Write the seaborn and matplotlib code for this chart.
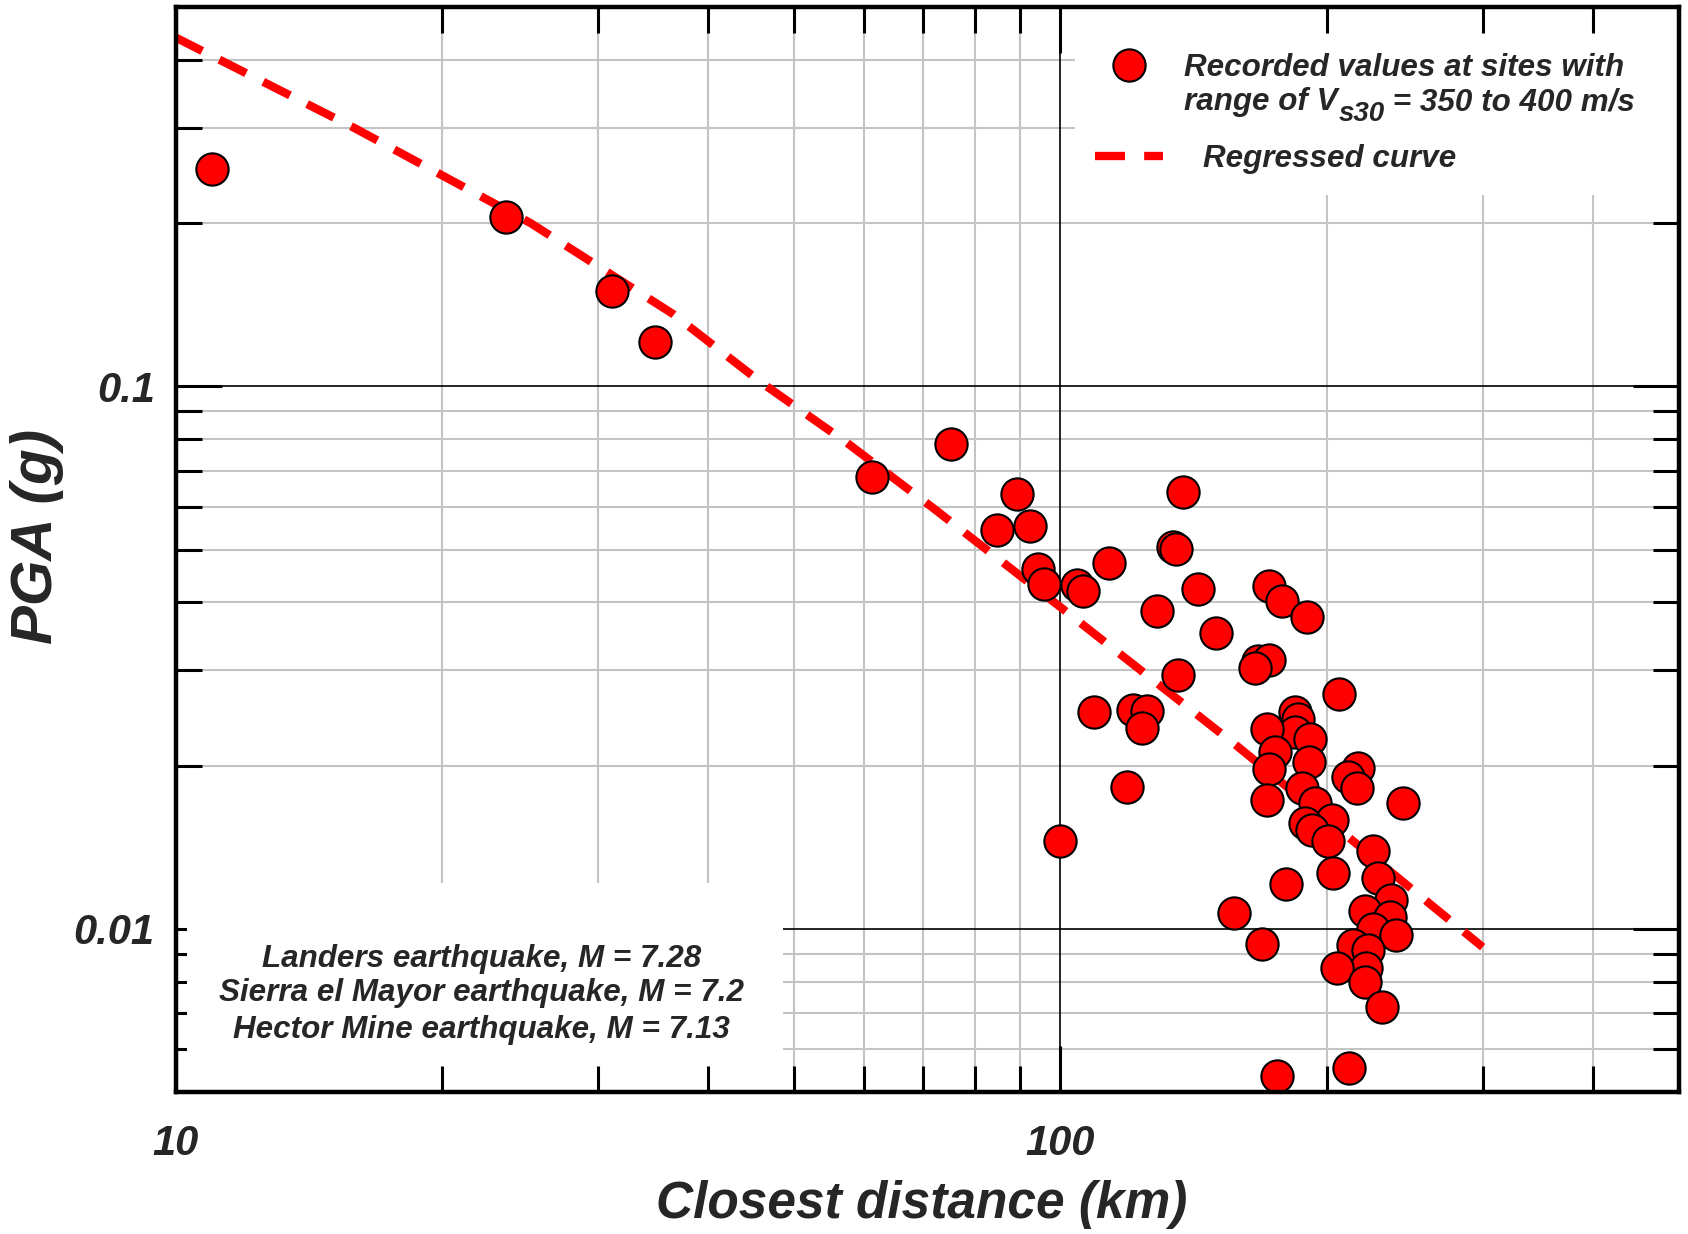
import matplotlib
matplotlib.use('Agg')
import matplotlib.pyplot as plt
import seaborn as sns
from matplotlib.patches import Rectangle
from matplotlib.ticker import FixedLocator, NullFormatter

# Recorded values (closest distance in km, PGA in g)
dist_km = [11.0, 23.6, 31.1, 34.8, 61.2, 75.2, 89.3, 84.8, 92.4, 94.3,
           95.8, 104.4, 106.0, 113.4, 137.6, 134.1, 135.1, 143.1, 128.5, 149.9,
           172.1, 178.0, 189.9, 167.2, 172.1, 165.9, 135.8, 206.4, 109.1, 120.8,
           125.2, 123.6, 118.9, 100.0, 184.1, 185.6, 184.1, 191.4, 171.2, 174.8,
           172.1, 171.2, 190.9, 187.5, 193.9, 202.7, 188.9, 192.4, 200.6, 216.9,
           211.3, 216.3, 243.8, 225.5, 203.2, 179.8, 228.5, 236.3, 220.9, 235.7,
           225.5, 239.4, 214.1, 222.6, 221.4, 205.3, 220.9, 230.8, 157.0, 169.0,
           175.7, 211.8]
pga_g = [0.252, 0.205, 0.150, 0.121, 0.0681, 0.0783, 0.0633, 0.0544, 0.0553, 0.0461,
         0.0433, 0.0431, 0.0420, 0.0473, 0.0639, 0.0506, 0.0502, 0.0423, 0.0386, 0.0351,
         0.0429, 0.0402, 0.0376, 0.0312, 0.0313, 0.0303, 0.0294, 0.0271, 0.0251, 0.0253,
         0.0252, 0.0235, 0.0183, 0.0145, 0.0251, 0.0244, 0.0231, 0.0224, 0.0234, 0.0212,
         0.0197, 0.0173, 0.0203, 0.0182, 0.0171, 0.0159, 0.0157, 0.0152, 0.0145, 0.0198,
         0.0191, 0.0182, 0.0171, 0.0139, 0.0127, 0.0121, 0.0124, 0.0113, 0.0108, 0.0105,
         0.0100, 0.00975, 0.00934, 0.00915, 0.00847, 0.00847, 0.00799, 0.00718, 0.0107, 0.0094,
         0.00536, 0.00554]

# Regressed curve
curve_km = [10, 15.9, 25.2, 36.5, 45.8, 57.4, 71.8, 100, 158, 300]
curve_g = [0.44, 0.30, 0.200, 0.136, 0.102, 0.0787, 0.0597, 0.0392, 0.0218, 0.00926]

x_major = [10, 100]
x_minor = [20, 30, 40, 50, 60, 70, 80, 90, 200, 300, 400]
y_major = [0.01, 0.1]
y_minor = [0.006, 0.007, 0.008, 0.009, 0.02, 0.03, 0.04, 0.05, 0.06, 0.07, 0.08, 0.09,
           0.2, 0.3, 0.4]

sns.set_style('white')
plt.rcParams['font.family'] = ['Liberation Sans', 'DejaVu Sans']
plt.rcParams['font.weight'] = 'bold'
plt.rcParams['font.style'] = 'italic'

fig = plt.figure(figsize=(16.88, 12.34), dpi=100)
ax = fig.add_axes([0.10397, 0.11483, 0.8907, 0.87925])
ax.set_axisbelow(False)
ax.set_xscale('log')
ax.set_yscale('log')
ax.set_xlim(10, 500)
ax.set_ylim(0.005, 0.5)

# grid drawn by hand so that the white boxes can sit above it but below the ticks
for v in x_minor:
    ax.axvline(v, color='#c4c4c4', lw=1.5, zorder=0.5)
for v in y_minor:
    ax.axhline(v, color='#c4c4c4', lw=1.5, zorder=0.5)
ax.axvline(100, color='black', lw=1.2, zorder=0.6)
for v in y_major:
    ax.axhline(v, color='black', lw=1.2, zorder=0.6)

# white boxes behind legend and annotation
ax.add_patch(Rectangle((0.598, 0.827), 0.402, 0.173, transform=ax.transAxes,
                       facecolor='white', edgecolor='none', zorder=1))
ax.add_patch(Rectangle((0.0, 0.0), 0.404, 0.193, transform=ax.transAxes,
                       facecolor='white', edgecolor='none', zorder=1))
# the boxes also clip some tick marks in the original
ax.add_patch(Rectangle((0.975, 0.827), 0.025, 0.173, transform=ax.transAxes,
                       facecolor='white', edgecolor='none', zorder=2.7))
ax.add_patch(Rectangle((0.0075, 0.02), 0.03, 0.173, transform=ax.transAxes,
                       facecolor='white', edgecolor='none', zorder=2.7))

line_style = dict(color='#ff0000', linewidth=6, linestyle=(0, (3.6, 2.3)))
dot_style = dict(s=540, color='#ff0000', edgecolor='black', linewidth=1.5)

sns.lineplot(x=curve_km, y=curve_g, ax=ax, zorder=3, **line_style)
sns.scatterplot(x=dist_km, y=pga_g, ax=ax, zorder=3.5, **dot_style)

# legend drawn by hand
fs = 22.6
ax.plot([0.6116, 0.6568], [0.8628, 0.8628], transform=ax.transAxes, zorder=3,
        solid_capstyle='butt', **line_style)
ax.scatter([0.6342], [0.9468], transform=ax.transAxes, zorder=3.5, clip_on=False, **dot_style)
ax.text(0.6708, 0.9367, 'Recorded values at sites with', transform=ax.transAxes,
        fontsize=fs, va='baseline', ha='left', zorder=4)
t1 = ax.text(0.6708, 0.9053, 'range of V', transform=ax.transAxes,
             fontsize=fs, va='baseline', ha='left', zorder=4)
t2 = ax.annotate('s30', xy=(1.0, 0.0), xycoords=t1, xytext=(0.5, -3),
                 textcoords='offset points', fontsize=20, ha='left', va='baseline', zorder=4)
ax.annotate(' = 350 to 400 m/s', xy=(1.0, 0.0), xycoords=(t2, t1), xytext=(0, 0),
            textcoords='offset points', fontsize=fs, ha='left', va='bottom', zorder=4)
ax.text(0.6834, 0.8528, 'Regressed curve', transform=ax.transAxes,
        fontsize=fs, va='baseline', ha='left', zorder=4)

notes = ['Landers earthquake, M = 7.28',
         'Sierra el Mayor earthquake, M = 7.2',
         'Hector Mine earthquake, M = 7.13']
for txt, yy in zip(notes, [0.1155, 0.0841, 0.050]):
    ax.text(0.2033, yy, txt, transform=ax.transAxes, fontsize=fs,
            ha='center', va='baseline', zorder=4)

# ticks
ax.xaxis.set_major_locator(FixedLocator(x_major))
ax.xaxis.set_minor_locator(FixedLocator(x_minor))
ax.yaxis.set_major_locator(FixedLocator(y_major))
ax.yaxis.set_minor_locator(FixedLocator(y_minor))
ax.set_xticklabels(['10', '100'])
ax.set_yticklabels(['0.01', '0.1'])
ax.xaxis.set_minor_formatter(NullFormatter())
ax.yaxis.set_minor_formatter(NullFormatter())
ax.tick_params(which='both', direction='in', bottom=True, left=True, top=True, right=True,
               width=2.2, color='black')
ax.tick_params(which='major', length=33, labelsize=30)
ax.tick_params(axis='x', which='major', pad=23)
ax.tick_params(axis='y', which='major', pad=15)
ax.tick_params(which='minor', length=19)
for lab in ax.get_xticklabels() + ax.get_yticklabels():
    lab.set_fontweight('bold')
    lab.set_fontstyle('italic')

for sp in ax.spines.values():
    sp.set_linewidth(3.2)
    sp.set_color('black')
    sp.set_zorder(5)

ax.set_xlabel('Closest distance (km)', fontsize=37, fontweight='bold', fontstyle='italic')
ax.set_ylabel('PGA (g)', fontsize=42, fontweight='bold', fontstyle='italic')
ax.xaxis.set_label_coords(0.496, -0.081)
ax.yaxis.set_label_coords(-0.074, 0.512)

plt.savefig('out.png', dpi=100)
